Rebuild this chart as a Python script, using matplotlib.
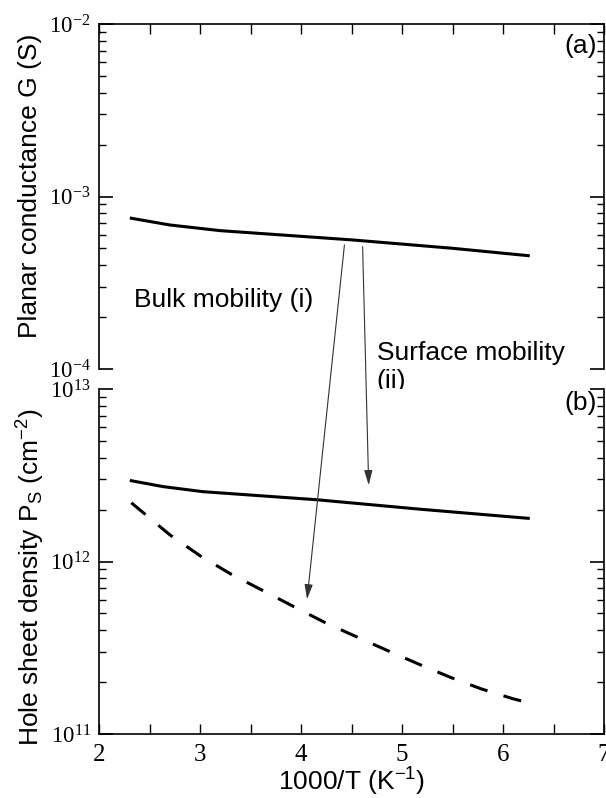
import numpy as np
import matplotlib
matplotlib.use("Agg")
import matplotlib.pyplot as plt
from matplotlib.ticker import MultipleLocator, LogLocator, FuncFormatter, NullFormatter
from matplotlib.patches import ConnectionPatch

plt.rcParams['font.family'] = ['Liberation Sans', 'DejaVu Sans']

# values
inv_T_g = [2.32, 2.70, 3.20, 4.51, 5.50, 6.25]
cond_g = [7.48e-4, 6.84e-4, 6.34e-4, 5.60e-4, 5.01e-4, 4.54e-4]

inv_T_p = [2.32, 2.63, 3.03, 4.16, 5.18, 6.25]
ps_surface = [2.94e12, 2.72e12, 2.54e12, 2.28e12, 2.01e12, 1.78e12]

inv_T_b = [2.32, 2.70, 3.00, 3.31, 3.63, 3.93, 4.24, 4.55, 4.86, 5.16, 5.48, 5.78, 6.10, 6.25]
ps_bulk = [2.19e12, 1.43e12, 1.08e12, 8.43e11, 6.75e11, 5.47e11, 4.42e11,
           3.66e11, 3.04e11, 2.55e11, 2.13e11, 1.83e11, 1.60e11, 1.52e11]

fig = plt.figure(figsize=(6.06, 7.98), dpi=100)
ax1 = fig.add_axes([0.1634, 0.5376, 0.8333, 0.4323])
ax2 = fig.add_axes([0.1634, 0.0802, 0.8333, 0.4323])

lw = 2.2
ax1.plot(inv_T_g, cond_g, color='black', lw=lw)
ax2.plot(inv_T_p, ps_surface, color='black', lw=lw)
ax2.plot(inv_T_b, ps_bulk, color='black', lw=lw, linestyle=(0, (6, 5.5)))

ax1.set_ylim(1e-4, 1e-2)
ax2.set_ylim(1e11, 1e13)
fs = 19
serif = 'Liberation Serif'
logfmt = FuncFormatter(lambda v, p: r'$\mathregular{10^{%d}}$' % round(np.log10(v)))

for ax in (ax1, ax2):
    ax.set_yscale('log')
    ax.set_xlim(2, 7)
    ax.xaxis.set_major_locator(MultipleLocator(1))
    ax.xaxis.set_minor_locator(MultipleLocator(0.5))
    ax.yaxis.set_major_locator(LogLocator(base=10, numticks=10))
    ax.yaxis.set_minor_locator(LogLocator(base=10, subs=np.arange(2, 10), numticks=10))
    ax.yaxis.set_major_formatter(logfmt)
    ax.yaxis.set_minor_formatter(NullFormatter())
    ax.tick_params(axis='y', which='major', direction='in', length=10, width=1.2,
                   left=True, right=True, pad=6, labelsize=16.5)
    ax.tick_params(axis='y', which='minor', direction='in', length=5, width=1.0,
                   left=True, right=True)
    ax.tick_params(axis='x', which='both', direction='in', length=7, width=1.0,
                   labelsize=18, pad=7)
    for s in ax.spines.values():
        s.set_linewidth(1.2)

ax1.spines['bottom'].set_visible(False)
ax1.tick_params(axis='x', which='both', top=True, bottom=False, labelbottom=False)
ax2.spines['top'].set_visible(False)
ax2.tick_params(axis='x', which='both', top=False, bottom=True)
for ax in (ax1, ax2):
    for lab in ax.get_yticklabels() + ax.get_xticklabels():
        lab.set_family(serif)

ax1.set_ylabel('Planar conductance G (S)', fontsize=fs)
ax1.yaxis.set_label_coords(-0.113, 0.53)
ax2.set_ylabel(r'Hole sheet density P$\mathregular{_S}$ (cm$\mathregular{^{-2}}$)', fontsize=fs)
ax2.yaxis.set_label_coords(-0.103, 0.455)
ax2.set_xlabel(r'1000/T (K$\mathregular{^{-1}}$)', fontsize=fs, labelpad=0)

ax1.text(0.986, 0.935, '(a)', transform=ax1.transAxes, ha='right', va='center', fontsize=fs)
ax2.text(0.986, 0.96, '(b)', transform=ax2.transAxes, ha='right', va='center', fontsize=fs)

ax1.text(2.35, 10 ** -3.6, 'Bulk mobility (i)', ha='left', va='center', fontsize=fs)
ax1.text(4.75, 10 ** -3.99, 'Surface mobility\n(ii)', ha='left', va='center', fontsize=fs,
         linespacing=1.2)

# arrows from panel (a) to panel (b)
arrows = [((4.43, 5.24e-4), (4.06, 6.04e11)), ((4.61, 5.12e-4), (4.67, 2.77e12))]
for start, end in arrows:
    con = ConnectionPatch(xyA=start, coordsA=ax1.transData, xyB=end, coordsB=ax2.transData,
                          arrowstyle='-|>,head_length=0.9,head_width=0.25',
                          color='#333333', lw=0.8, shrinkA=0, shrinkB=0)
    fig.add_artist(con)

fig.savefig('out.png', dpi=100)
